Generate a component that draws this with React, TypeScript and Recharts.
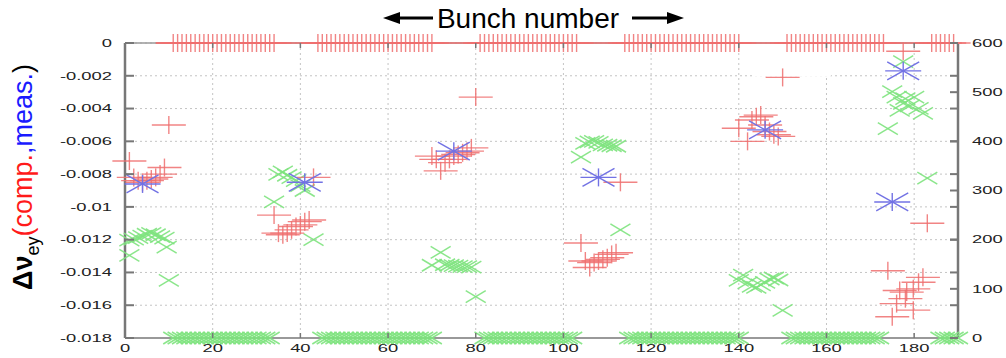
import React from 'react';
import { ScatterChart, Scatter, XAxis, YAxis, CartesianGrid, ReferenceLine, ReferenceArea } from 'recharts';

// ---------- layout ----------
const W = 1006;
const H = 358;
const MARGIN = { top: 43, right: 0, bottom: 0, left: 0 };
const LEFT_W = 125;
const RIGHT_W = 48;
const X_H = 20;
const PLOT_L = MARGIN.left + LEFT_W;
const PLOT_R = W - MARGIN.right - RIGHT_W;
const PLOT_T = MARGIN.top;
const PLOT_B = H - MARGIN.bottom - X_H;
const SX = 1.75; // horizontal stretch of tick labels
const FONT = '"Liberation Sans", Arial, sans-serif';

// ---------- ticks ----------
const xTicks = [0, 20, 40, 60, 80, 100, 120, 140, 160, 180];
const leftTicks = [0, -0.002, -0.004, -0.006, -0.008, -0.01, -0.012, -0.014, -0.016, -0.018];
const rightTicks = [0, 100, 200, 300, 400, 500, 600];

// ---------- filled bunches (fill pattern rows) ----------
const topRowBunches = [
  11, 12, 13, 14, 15, 16, 17, 18, 19, 20, 21, 22, 23, 24, 25, 26, 27, 28, 29, 30, 31, 32, 33, 34,
  44, 45, 46, 47, 48, 49, 50, 51, 52, 53, 54, 55, 56, 57, 58, 59, 60, 61, 62, 63, 64, 65, 66, 67, 68, 69, 70,
  81, 82, 83, 84, 85, 86, 87, 88, 89, 90, 91, 92, 93, 94, 95, 96, 97, 98, 99, 100, 101, 102, 103,
  114, 115, 116, 117, 118, 119, 120, 121, 122, 123, 124, 125, 126, 127, 128, 129, 130, 131, 132, 133, 134, 135, 136, 137, 138, 139, 140,
  151, 152, 153, 154, 155, 156, 157, 158, 159, 160, 161, 162, 163, 164, 165, 166, 167, 168, 169, 170, 171, 172, 173,
  184, 185, 186, 187, 188, 189,
];
const bottomRowBunches = [
  11, 12, 13, 14, 15, 16, 17, 18, 19, 20, 21, 22, 23, 24, 25, 26, 27, 28, 29, 30, 31, 32, 33,
  45, 46, 47, 48, 49, 50, 51, 52, 53, 54, 55, 56, 57, 58, 59, 60, 61, 62, 63, 64, 65, 66, 67, 68, 69, 70,
  82, 83, 84, 85, 86, 87, 88, 89, 90, 91, 92, 93, 94, 95, 96, 97, 98, 99, 100, 101, 102,
  115, 116, 117, 118, 119, 120, 121, 122, 123, 124, 125, 126, 127, 128, 129, 130, 131, 132, 133, 134, 135, 136, 137, 138, 139, 140,
  152, 153, 154, 155, 156, 157, 158, 159, 160, 161, 162, 163, 164, 165, 166, 167, 168, 169, 170, 171, 172,
  186, 187, 188, 189, 190,
];
const topRowLine = [7, 190];

// ---------- computed tune shift (red +, left axis) ----------
const compBunch = [
  1, 2, 3, 4, 5, 6, 7, 8, 9, 10,
  34, 35, 36, 37, 38, 39, 40, 41, 42, 43,
  70, 71, 72, 73, 74, 75, 76, 77, 78, 79, 80,
  104, 105, 106, 107, 108, 109, 110, 111, 112, 113,
  140, 142, 143, 144, 145, 146, 147, 148, 149, 150,
  174, 175, 176, 176.7, 177.5, 178, 178.3, 179.8, 179.8, 181, 182, 183,
];
const compTune = [
  -0.0072, -0.0082, -0.0084, -0.0085, -0.0084, -0.0083, -0.0082, -0.008, -0.0076, -0.005,
  -0.0105, -0.0116, -0.0117, -0.0116, -0.0114, -0.0112, -0.0111, -0.0109, -0.0108, -0.0082,
  -0.0069, -0.0071, -0.0078, -0.0073, -0.0071, -0.0069, -0.0068, -0.0067, -0.0066, -0.0064, -0.0033,
  -0.0122, -0.0133, -0.0137, -0.0134, -0.0133, -0.0132, -0.0131, -0.0129, -0.0128, -0.0085,
  -0.0052, -0.006, -0.0047, -0.0045, -0.0044, -0.005, -0.0054, -0.0056, -0.0057, -0.0021,
  -0.0139, -0.0167, -0.0159, -0.0151, -0.0005, -0.0156, -0.0152, -0.015, -0.0163, -0.0146, -0.0143, -0.011,
];

// ---------- measured tune shift (blue asterisk, left axis) ----------
const measBunch = [4, 41, 75, 108, 146, 175, 177.5];
const measTune = [-0.0086, -0.0085, -0.0066, -0.0082, -0.0053, -0.0097, -0.0017];

// ---------- right-axis quantity (green x) ----------
const rightBunch = [
  1, 1, 2, 3, 4, 5, 6, 7, 8, 9, 9.5, 10,
  34, 35, 36, 37, 38, 39, 40, 41, 43,
  70, 72, 73, 74, 75, 76, 77, 78, 79, 80,
  104, 105, 106, 107, 108, 109, 110, 111, 112, 113,
  140, 141, 142, 143, 144, 145, 146, 147, 148, 149, 150,
  174, 175, 176, 176.7, 177.5, 177.5, 178, 179, 180, 181, 182, 183,
];
const rightValue = [
  168, 199, 201, 204, 207, 211, 213, 210, 206, 203, 185, 117,
  277, 333, 338, 331, 326, 320, 310, 300, 200,
  148, 174, 149, 148, 147, 146, 145, 145, 144, 84,
  368, 396, 399, 400, 398, 393, 392, 391, 390, 220,
  117, 128, 112, 105, 103, 108, 113, 120, 122, 118, 56,
  426, 501, 490, 463, 562, 477, 487, 472, 490, 467, 457, 325,
];

const zip = (xs: number[], ys: number[]) => xs.map((x, i) => ({ x, y: ys[i] }));
const compData = zip(compBunch, compTune);
const measData = zip(measBunch, measTune);
const rightData = zip(rightBunch, rightValue);
const topRowData = topRowBunches.map((x) => ({ x, y: 0 }));
const bottomRowData = bottomRowBunches.map((x) => ({ x, y: 0 }));

// ---------- colors ----------
const RED = '#ee6f6f';
const GREEN = '#7ee37e';
const BLUE = '#7272e4';
const AXIS = '#777';

// ---------- marker shapes ----------
const Plus = (p: any) => {
  const { cx, cy } = p;
  if (cx == null || cy == null) return <g />;
  return (
    <g stroke={RED} strokeWidth={1.4} strokeOpacity={0.85}>
      <line x1={cx - 17} x2={cx + 17} y1={cy} y2={cy} />
      <line x1={cx} x2={cx} y1={cy - 9} y2={cy + 9} />
    </g>
  );
};
const Cross = (p: any) => {
  const { cx, cy } = p;
  if (cx == null || cy == null) return <g />;
  return (
    <g stroke={GREEN} strokeWidth={1.5} strokeOpacity={0.9}>
      <line x1={cx - 10} x2={cx + 10} y1={cy - 6} y2={cy + 6} />
      <line x1={cx - 10} x2={cx + 10} y1={cy + 6} y2={cy - 6} />
    </g>
  );
};
const Star = (p: any) => {
  const { cx, cy } = p;
  if (cx == null || cy == null) return <g />;
  return (
    <g stroke={BLUE} strokeWidth={1.4}>
      <line x1={cx - 18} x2={cx + 18} y1={cy} y2={cy} />
      <line x1={cx} x2={cx} y1={cy - 9} y2={cy + 9} />
      <line x1={cx - 16} x2={cx + 16} y1={cy - 9} y2={cy + 9} />
      <line x1={cx - 16} x2={cx + 16} y1={cy + 9} y2={cy - 9} />
    </g>
  );
};

// ---------- ticks ----------
const labelStyle = { fontFamily: FONT, fontSize: 10.5, fill: '#222' } as const;

const LeftTick = (p: any) => {
  const { x, y, payload } = p;
  const v = payload.value;
  return (
    <g>
      <line x1={PLOT_L} x2={PLOT_L + 9} y1={y} y2={y} stroke={AXIS} strokeWidth={2} />
      <line x1={PLOT_R - 8} x2={PLOT_R} y1={y} y2={y} stroke={AXIS} strokeWidth={2} />
      <text transform={`translate(${x},${y}) scale(${SX},1)`} textAnchor="end" dy="0.36em" {...labelStyle}>
        {v === 0 ? '0' : String(v)}
      </text>
    </g>
  );
};
const RightTick = (p: any) => {
  const { x, y, payload } = p;
  return (
    <g>
      <line x1={PLOT_R - 8} x2={PLOT_R} y1={y} y2={y} stroke={AXIS} strokeWidth={2} />
      <text transform={`translate(${x},${y}) scale(${SX},1)`} textAnchor="start" dy="0.36em" {...labelStyle}>
        {String(payload.value)}
      </text>
    </g>
  );
};
const BottomTick = (p: any) => {
  const { x, y, payload } = p;
  return (
    <g>
      <line x1={x} x2={x} y1={PLOT_B} y2={PLOT_B - 5} stroke={AXIS} strokeWidth={1.5} />
      <line x1={x} x2={x} y1={PLOT_T} y2={PLOT_T + 5} stroke={AXIS} strokeWidth={1.5} />
      <text transform={`translate(${x},${y}) scale(${SX},1)`} textAnchor="middle" dy="0.36em" {...labelStyle}>
        {String(payload.value)}
      </text>
    </g>
  );
};

export default function App() {
  return (
    <div style={{ position: 'absolute', left: 0, top: 0, width: W, height: H, background: '#fff' }}>
      <ScatterChart width={W} height={H} margin={MARGIN}>
        <CartesianGrid yAxisId="left" stroke="#c4c4c4" strokeDasharray="2 3" strokeWidth={1} />
        <XAxis
          type="number"
          dataKey="x"
          domain={[0, 190]}
          ticks={xTicks}
          interval={0}
          height={X_H}
          tickSize={0}
          tickMargin={10}
          tickLine={false}
          axisLine={{ stroke: '#999', strokeWidth: 2 }}
          tick={<BottomTick />}
        />
        <YAxis
          yAxisId="left"
          type="number"
          dataKey="y"
          domain={[-0.018, 0]}
          ticks={leftTicks}
          interval={0}
          width={LEFT_W}
          tickSize={0}
          tickMargin={13}
          tickLine={false}
          axisLine={{ stroke: AXIS, strokeWidth: 2.5 }}
          tick={<LeftTick />}
        />
        <YAxis
          yAxisId="right"
          orientation="right"
          type="number"
          dataKey="y"
          domain={[0, 600]}
          ticks={rightTicks}
          interval={0}
          width={RIGHT_W}
          tickSize={0}
          tickMargin={14}
          tickLine={false}
          axisLine={{ stroke: AXIS, strokeWidth: 2.5 }}
          tick={<RightTick />}
        />
        <ReferenceLine yAxisId="left" y={0} stroke="#999" strokeWidth={1.5} />
        <ReferenceArea
          yAxisId="left"
          x1={143.5}
          x2={161}
          y1={-0.0004}
          y2={-0.00205}
          fill="#fff"
          fillOpacity={1}
          stroke="none"
        />
        <ReferenceLine
          yAxisId="left"
          segment={[
            { x: topRowLine[0], y: 0 },
            { x: topRowLine[1], y: 0 },
          ]}
          stroke={RED}
          strokeWidth={1.5}
        />
        <Scatter yAxisId="right" data={bottomRowData} shape={<Cross />} isAnimationActive={false} />
        <Scatter yAxisId="left" data={topRowData} shape={<Plus />} isAnimationActive={false} />
        <Scatter yAxisId="right" data={rightData} shape={<Cross />} isAnimationActive={false} />
        <Scatter yAxisId="left" data={compData} shape={<Plus />} isAnimationActive={false} />
        <Scatter yAxisId="left" data={measData} shape={<Star />} isAnimationActive={false} />
      </ScatterChart>
      <svg width={W} height={H} style={{ position: 'absolute', left: 0, top: 0, pointerEvents: 'none' }}>
        <text x={528} y={28} textAnchor="middle" fontFamily={FONT} fontSize={28} fill="#000">
          Bunch number
        </text>
        <line x1={398} x2={433} y1={18} y2={18} stroke="#000" strokeWidth={3} />
        <polygon points="383,18 400,12 400,24" fill="#000" />
        <line x1={632} x2={668} y1={18} y2={18} stroke="#000" strokeWidth={3} />
        <polygon points="684,18 667,12 667,24" fill="#000" />
        <text
          transform="translate(32,177) rotate(-90)"
          textAnchor="middle"
          fontFamily={FONT}
          fontSize={27}
          fill="#000"
        >
          <tspan fontWeight="bold">Δν</tspan>
          <tspan fontSize={18} dy={7}>ey</tspan>
          <tspan dy={-7} fill="#ff1a1a">(comp.</tspan>
          <tspan fill="#1a1aff">,meas.</tspan>
          <tspan>)</tspan>
        </text>
      </svg>
    </div>
  );
}
